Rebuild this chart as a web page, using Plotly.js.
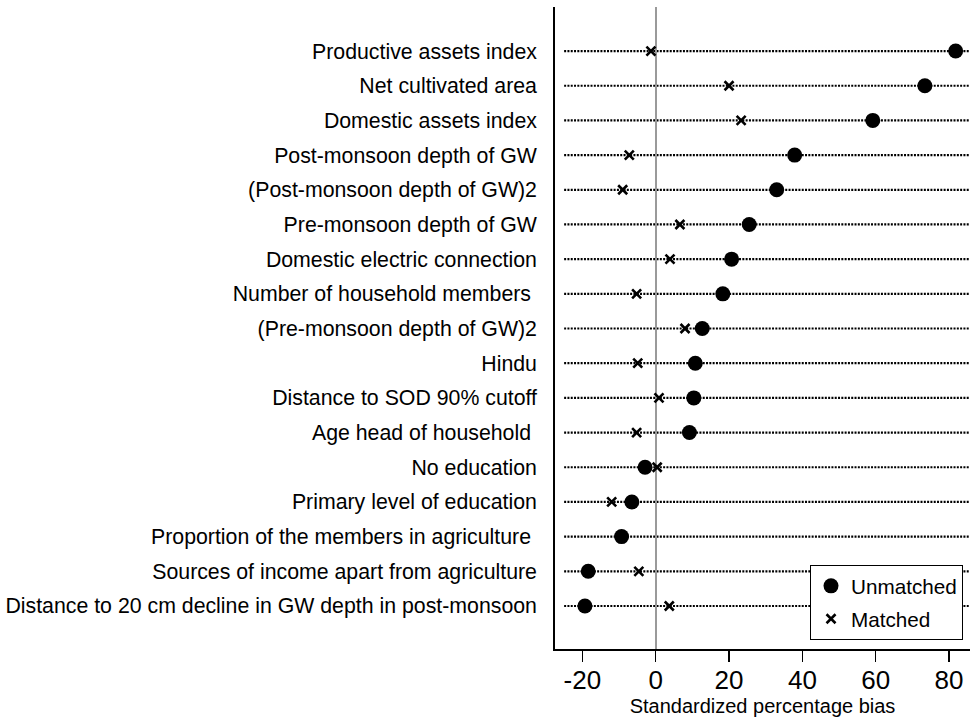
<!DOCTYPE html>
<html>
<head>
<meta charset="utf-8">
<script src="https://cdn.plot.ly/plotly-3.0.1.min.js"></script>
<style>
  html, body { margin: 0; padding: 0; background: #fff; }
  #chart { width: 970px; height: 722px; }
</style>
</head>
<body>
<div id="chart"></div>
<script>
// Covariates, listed top to bottom
const variables = [
  "Productive assets index",
  "Net cultivated area",
  "Domestic assets index",
  "Post-monsoon depth of GW",
  "(Post-monsoon depth of GW)2",
  "Pre-monsoon depth of GW",
  "Domestic electric connection",
  "Number of household members\u00a0",
  "(Pre-monsoon depth of GW)2",
  "Hindu",
  "Distance to SOD 90% cutoff",
  "Age head of household\u00a0",
  "No education",
  "Primary level of education",
  "Proportion of the members in agriculture\u00a0",
  "Sources of income apart from agriculture",
  "Distance to 20 cm decline in GW depth in post-monsoon"
];

// Standardized percentage bias before matching
const unmatched = [81.8, 73.4, 59.2, 37.9, 33.0, 25.5, 20.7, 18.3, 12.7, 10.8, 10.4, 9.2, -2.9, -6.5, -9.3, -18.4, -19.3];

// Standardized percentage bias after matching
const matched = [-1.3, 20.0, 23.3, -7.2, -9.0, 6.6, 3.9, -5.2, 8.0, -4.9, 0.9, -5.2, 0.4, -12.0, -9.3, -4.6, 3.7];

const xTicks = [-20, 0, 20, 40, 60, 80];

// Row positions: first variable at the top
const n = variables.length;
const rowPos = variables.map((_, i) => n - i);

const font = "Arial, 'Liberation Sans', sans-serif";

const traces = [
  {
    type: "scatter", mode: "markers", name: "Matched",
    x: matched, y: rowPos,
    marker: { symbol: "x-thin", size: 9, color: "#000", line: { color: "#000", width: 2.6 } },
    legendgroup: "m", legendrank: 2, hoverinfo: "skip"
  },
  {
    type: "scatter", mode: "markers", name: "Unmatched",
    x: unmatched, y: rowPos,
    marker: { symbol: "circle", size: 15, color: "#000" },
    legendgroup: "u", legendrank: 1, hoverinfo: "skip"
  }
];

// Dotted guide line behind each row
const guides = rowPos.map(p => ({
  type: "line", layer: "below",
  xref: "paper", x0: 0.022, x1: 1,
  yref: "y", y0: p, y1: p,
  line: { color: "#000", width: 2.2, dash: "2px,1.3px" }
}));

const layout = {
  width: 970, height: 722,
  margin: { l: 555, r: 0, t: 7, b: 73, autoexpand: false },
  paper_bgcolor: "#fff", plot_bgcolor: "#fff",
  font: { family: font, color: "#000" },
  showlegend: true,
  legend: {
    x: 0.6145, xanchor: "left", y: 0.131, yanchor: "top",
    bordercolor: "#000", borderwidth: 1, bgcolor: "#fff",
    font: { family: font, size: 20.7, color: "#000" },
    tracegroupgap: 3, itemwidth: 30,
    entrywidth: 118, entrywidthmode: "pixels"
  },
  xaxis: {
    range: [-27.46, 85.71],
    tickvals: xTicks, ticktext: xTicks.map(String),
    ticks: "outside", ticklen: 11, tickwidth: 1.5, tickcolor: "#000",
    ticklabelstandoff: -4,
    tickfont: { family: font, size: 26, color: "#000" },
    showline: true, linecolor: "#000", linewidth: 1.5,
    showgrid: false,
    zeroline: true, zerolinecolor: "#9a9a9a", zerolinewidth: 1.8,
    title: { text: "Standardized percentage bias", font: { family: font, size: 20, color: "#000" }, standoff: 0 }
  },
  yaxis: {
    range: [-0.24, n + 1.27],
    tickvals: rowPos, ticktext: variables,
    ticks: "", ticklabelstandoff: 12,
    tickfont: { family: font, size: 21.3, color: "#000" },
    showline: true, linecolor: "#000", linewidth: 1.8,
    showgrid: false, zeroline: false
  },
  shapes: guides
};

Plotly.newPlot("chart", traces, layout, { displayModeBar: false, staticPlot: true });
</script>
</body>
</html>
